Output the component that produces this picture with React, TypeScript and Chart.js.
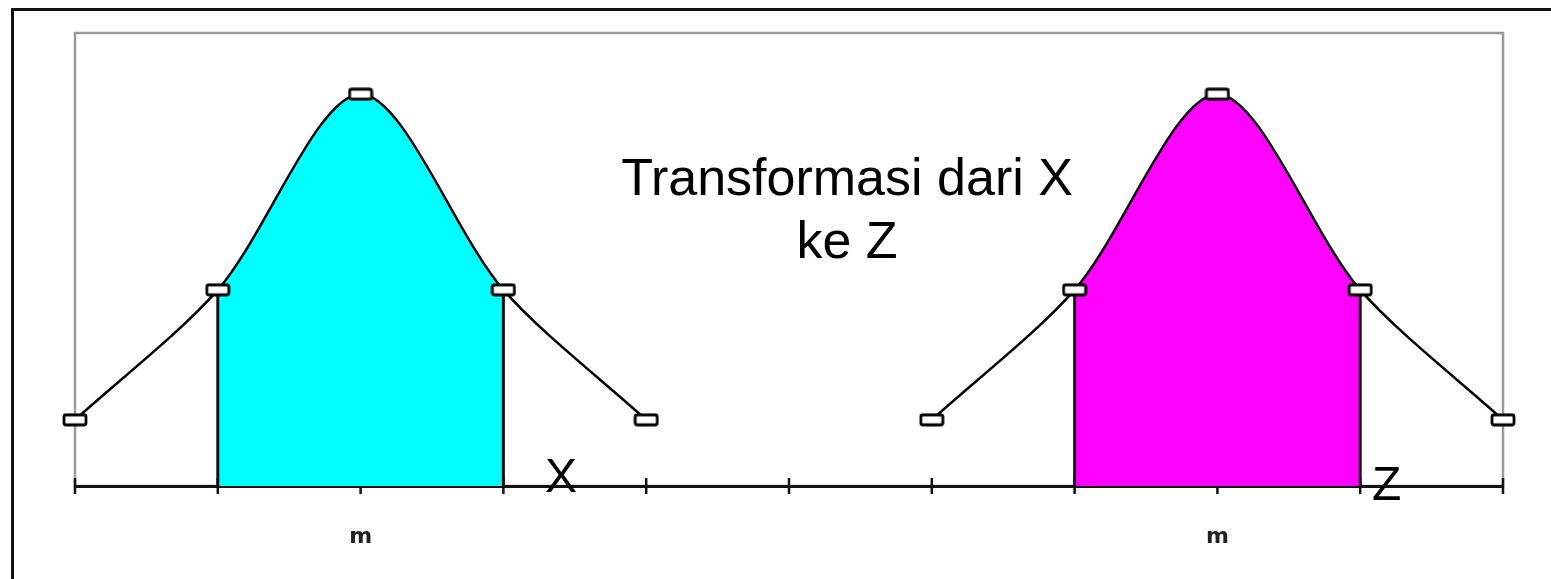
import React, { useEffect, useRef } from "react";
import { Chart, registerables } from "chart.js";

Chart.register(...registerables);

// ---- data ----
const xTickLabels = ["", "", "m", "", "", "", "", "", "m", "", ""];
const leftCurveX = [0, 1, 2, 3, 4];
const leftCurveY = [0.146, 0.433, 0.865, 0.433, 0.146];
const rightCurveX = [6, 7, 8, 9, 10];
const rightCurveY = [0.146, 0.433, 0.865, 0.433, 0.146];
const shadedFrom = 1; // index in curve where shading starts
const shadedTo = 3; // index in curve where shading ends
const leftFill = "#00FFFF";
const rightFill = "#FF00FF";
const titleLines = ["Transformasi dari X", "ke Z"];
const leftVarLabel = "X";
const rightVarLabel = "Z";

function makeMarker(): HTMLCanvasElement {
  const c = document.createElement("canvas");
  c.width = 26;
  c.height = 14;
  const g = c.getContext("2d")!;
  g.fillStyle = "#ffffff";
  g.strokeStyle = "#000000";
  g.lineWidth = 2.8;
  g.beginPath();
  if ((g as any).roundRect) (g as any).roundRect(2, 2, 22, 10, 2);
  else g.rect(2, 2, 22, 10);
  g.fill();
  g.stroke();
  return c;
}

function curveDataset(xs: number[], ys: number[], color: string, marker: HTMLCanvasElement) {
  return {
    type: "line" as const,
    data: xs.map((x, i) => ({ x, y: ys[i] })),
    borderColor: "#000000",
    borderWidth: 2.5,
    tension: 0.3,
    pointStyle: marker,
    pointRadius: 6,
    fill: "origin",
    backgroundColor: color,
    clip: false as any,
    segment: {
      backgroundColor: (ctx: any) =>
        ctx.p0DataIndex >= shadedFrom && ctx.p1DataIndex <= shadedTo ? color : "rgba(0,0,0,0)",
    },
  };
}

function boundaryDataset(x: number, y: number) {
  return {
    type: "line" as const,
    data: [
      { x, y: 0 },
      { x, y },
    ],
    borderColor: "#111111",
    borderWidth: 3,
    pointRadius: 0,
    fill: false,
    clip: false as any,
  };
}

const framePlugin = {
  id: "framePlugin",
  beforeDraw(chart: any) {
    const { ctx, chartArea } = chart;
    const xs = chart.scales.x;
    ctx.save();
    // inner gray box
    ctx.strokeStyle = "#9a9a9a";
    ctx.lineWidth = 2.5;
    ctx.strokeRect(chartArea.left, chartArea.top, chartArea.right - chartArea.left, chartArea.bottom - chartArea.top);
    // tick marks crossing the axis
    ctx.strokeStyle = "#111111";
    ctx.lineWidth = 2.5;
    const y = chartArea.bottom;
    xs.ticks.forEach((t: any) => {
      const px = xs.getPixelForValue(t.value);
      ctx.beginPath();
      ctx.moveTo(px, y - 8);
      ctx.lineTo(px, y + 8);
      ctx.stroke();
    });
    ctx.restore();
  },
};

export default function App() {
  const ref = useRef<HTMLCanvasElement | null>(null);

  useEffect(() => {
    if (!ref.current) return;
    const marker = makeMarker();
    const chart = new Chart(ref.current, {
      type: "line",
      data: {
        datasets: [
          curveDataset(leftCurveX, leftCurveY, leftFill, marker) as any,
          curveDataset(rightCurveX, rightCurveY, rightFill, marker) as any,
          boundaryDataset(leftCurveX[shadedFrom], leftCurveY[shadedFrom]) as any,
          boundaryDataset(leftCurveX[shadedTo], leftCurveY[shadedTo]) as any,
          boundaryDataset(rightCurveX[shadedFrom], rightCurveY[shadedFrom]) as any,
          boundaryDataset(rightCurveX[shadedTo], rightCurveY[shadedTo]) as any,
        ],
      },
      options: {
        animation: false,
        responsive: false,
        devicePixelRatio: 1,
        layout: { padding: { left: 75, right: 48, top: 33, bottom: 0 } },
        plugins: {
          legend: { display: false },
          tooltip: { enabled: false },
          filler: { drawTime: "beforeDatasetsDraw" } as any,
        },
        scales: {
          x: {
            type: "linear",
            min: 0,
            max: 10,
            z: 1,
            grid: { display: false },
            border: { display: true, color: "#111111", width: 3 },
            ticks: {
              stepSize: 1,
              autoSkip: false,
              maxRotation: 0,
              padding: 30,
              color: "#222222",
              font: { family: "DejaVu Sans", weight: "bold", size: 22 },
              callback: (v: any) => xTickLabels[Number(v)] ?? "",
            },
            afterFit: (s: any) => {
              s.height = 93;
            },
          },
          y: {
            display: false,
            min: 0,
            max: 1,
          },
        },
      },
      plugins: [framePlugin],
    });
    return () => chart.destroy();
  }, []);

  return (
    <div style={{ position: "absolute", left: 0, top: 0, width: 1551, height: 579, overflow: "hidden", background: "#fff" }}>
      <div
        style={{
          position: "absolute",
          left: 11,
          top: 8,
          width: 1540,
          height: 571,
          boxSizing: "border-box",
          borderLeft: "3px solid #111",
          borderTop: "3px solid #111",
        }}
      />
      <canvas ref={ref} width={1551} height={579} style={{ position: "absolute", left: 0, top: 0 }} />
      <div
        style={{
          position: "absolute",
          left: 547,
          top: 145.5,
          width: 600,
          textAlign: "center",
          fontFamily: "'Liberation Sans', Arial, sans-serif",
          fontSize: 52,
          lineHeight: "63px",
          color: "#000",
          whiteSpace: "nowrap",
        }}
      >
        {titleLines.map((t, i) => (
          <div key={i}>{t}</div>
        ))}
      </div>
      <div
        style={{
          position: "absolute",
          left: 545,
          top: 452,
          fontFamily: "'Liberation Sans', Arial, sans-serif",
          fontSize: 48,
          lineHeight: "48px",
          color: "#000",
        }}
      >
        {leftVarLabel}
      </div>
      <div
        style={{
          position: "absolute",
          left: 1372,
          top: 460,
          fontFamily: "'Liberation Sans', Arial, sans-serif",
          fontSize: 48,
          lineHeight: "48px",
          color: "#000",
        }}
      >
        {rightVarLabel}
      </div>
    </div>
  );
}
